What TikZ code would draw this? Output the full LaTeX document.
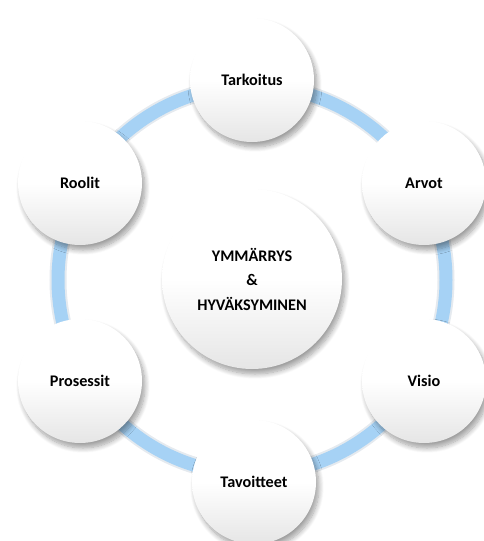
\documentclass[tikz,border=0pt]{standalone}
\usepackage{fontspec}
\setmainfont{Carlito}
\usetikzlibrary{shadows.blur}
\definecolor{ringblue}{RGB}{166,210,245}
\definecolor{ringedge}{RGB}{150,170,190}
\tikzset{
  bubble/.style={circle, inner sep=0pt, minimum size=124pt,
    top color=white, bottom color=black!10, middle color=white,
    blur shadow={shadow xshift=3pt, shadow yshift=-5pt, shadow blur steps=10, shadow blur radius=5pt, shadow opacity=38},
    font=\bfseries\fontsize{16.2}{24.5}\selectfont, text=black},
  bigbubble/.style={bubble, minimum size=180pt, align=center},
  ringshade/.style={draw=ringedge, line width=17pt, opacity=0.25},
  ringline/.style={draw=ringblue, line width=13pt}
}
\begin{document}
\begin{tikzpicture}[x=1pt,y=-1pt]
\useasboundingbox (0,0) rectangle (483,541);
\coordinate (c) at (252,280);
\path[ringshade] (c) circle [radius=194pt];
\path[ringline] (c) circle [radius=194pt];
\node[bigbubble] (mid) at (252,279) {YMMÄRRYS\\\&\\HYVÄKSYMINEN};
\node[bubble] (tar) at (252,80) {Tarkoitus};
\node[bubble] (arv) at (424,183) {Arvot};
\node[bubble] (vis) at (424,381) {Visio};
\node[bubble] (tav) at (254,482) {Tavoitteet};
\node[bubble] (pro) at (80,381) {Prosessit};
\node[bubble] (roo) at (80,183) {Roolit};
\end{tikzpicture}
\end{document}
